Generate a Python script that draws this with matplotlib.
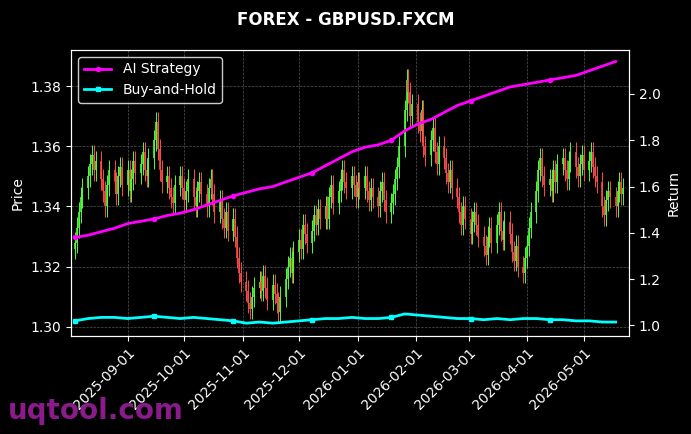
import matplotlib
matplotlib.use("Agg")
import matplotlib.pyplot as plt
import matplotlib.dates as mdates
import numpy as np
import pandas as pd

closes = [
1.328,1.333,1.338,1.343,1.346, 1.350,1.354,1.357,1.352,1.355, 1.349,1.345,1.340,1.347,1.352,
1.348,1.344,1.350,1.353,1.347, 1.352,1.345,1.349,1.355,1.351, 1.354,1.358,1.352,1.350,1.356,
1.362,1.368,1.359,1.352,1.348, 1.350,1.346,1.343,1.341,1.347, 1.350,1.346,1.342,1.345,1.349,
1.343,1.340,1.345,1.348,1.344, 1.340,1.346,1.349,1.344,1.338, 1.342,1.336,1.333,1.338,1.332,
1.336,1.330,1.323,1.318,1.315, 1.312,1.308,1.306,1.310,1.313, 1.315,1.312,1.317,1.313,1.309,
1.314,1.311,1.308,1.305,1.310, 1.316,1.320,1.323,1.318,1.325, 1.329,1.326,1.334,1.331,1.328,
1.332,1.337,1.334,1.339,1.336, 1.340,1.336,1.343,1.347,1.341, 1.345,1.349,1.352,1.348,1.346,
1.350,1.347,1.343,1.348,1.346, 1.350,1.345,1.342,1.346,1.343, 1.340,1.345,1.348,1.342,1.338,
1.341,1.344,1.349,1.353,1.360, 1.372,1.382,1.378,1.370,1.374, 1.368,1.365,1.372,1.360,1.357,
1.362,1.366,1.358,1.354,1.360, 1.356,1.351,1.348,1.352,1.346, 1.343,1.338,1.334,1.340,1.336,
1.331,1.335,1.338,1.334,1.330, 1.327,1.324,1.330,1.333,1.328, 1.334,1.338,1.332,1.329,1.335,
1.331,1.325,1.322,1.327,1.320, 1.318,1.323,1.327,1.333,1.338, 1.345,1.352,1.356,1.350,1.347,
1.349,1.345,1.352,1.348,1.354, 1.356,1.352,1.349,1.355,1.358, 1.353,1.350,1.354,1.357,1.352,
1.355,1.358,1.353,1.350,1.348, 1.340,1.337,1.342,1.345,1.343, 1.340,1.345,1.348,1.344,1.346]
open0 = 1.326
strategy_weekly = [1.38,1.39,1.405,1.42,1.44,1.45,1.46,1.475,1.485,1.50,1.52,1.54,1.56,1.575,
1.59,1.60,1.62,1.64,1.66,1.69,1.72,1.75,1.77,1.78,1.80,1.84,1.87,1.89,1.92,1.95,1.97,1.99,
2.01,2.03,2.04,2.05,2.06,2.07,2.08,2.10,2.12,2.14]
buyhold_weekly = [1.02,1.03,1.035,1.035,1.03,1.035,1.04,1.035,1.03,1.035,1.03,1.025,1.02,1.01,
1.015,1.01,1.015,1.02,1.025,1.03,1.03,1.035,1.03,1.03,1.035,1.05,1.045,1.04,1.035,1.03,1.03,
1.025,1.03,1.025,1.03,1.03,1.025,1.025,1.02,1.02,1.015,1.015]

days = pd.bdate_range("2025-08-04", periods=len(closes))
weeks = pd.date_range("2025-08-04", periods=len(strategy_weekly), freq="7D")
closes = np.array(closes)
opens = np.concatenate([[open0], closes[:-1]])
wick = 0.0035

fig = plt.figure(figsize=(6.91, 4.34), dpi=100, facecolor="black")
ax = fig.add_axes([0.103, 0.226, 0.807, 0.659], facecolor="black")
colors = np.where(closes >= opens, "#4cff3a", "#ff4a4a")
ax.vlines(days, np.minimum(opens, closes) - wick, np.maximum(opens, closes) + wick,
          colors=colors, linewidth=0.7)
ax.vlines(days, np.minimum(opens, closes), np.maximum(opens, closes),
          colors=colors, linewidth=1.2)
ax.set_ylim(1.297, 1.392)
ax.set_ylabel("Price", color="white")
ax.grid(True, color="#555555", linestyle="--", linewidth=0.5)

ax2 = ax.twinx()
ax2.plot(weeks, strategy_weekly, color="#ff00ff", lw=2, marker="o", ms=3, markevery=6, label="AI Strategy")
ax2.plot(weeks, buyhold_weekly, color="#00ffff", lw=2, marker="s", ms=3, markevery=6, label="Buy-and-Hold")
ax2.set_ylim(0.955, 2.19)
ax2.set_ylabel("Return", color="white")
ax.set_xlim(pd.Timestamp("2025-08-02"), pd.Timestamp("2026-05-25"))

for a in (ax, ax2):
    a.tick_params(colors="white")
    for s in a.spines.values():
        s.set_color("white")
ax.xaxis.set_major_locator(mdates.MonthLocator())
ax.xaxis.set_major_formatter(mdates.DateFormatter("%Y-%m-%d"))
plt.setp(ax.get_xticklabels(), rotation=45, ha="right", rotation_mode="anchor")
ax.set_yticks([1.30, 1.32, 1.34, 1.36, 1.38])
ax2.set_yticks([1.0, 1.2, 1.4, 1.6, 1.8, 2.0])
leg = ax2.legend(loc="upper left", facecolor="black", edgecolor="white", labelcolor="white")
fig.suptitle("FOREX - GBPUSD.FXCM", color="white", fontweight="bold", y=0.975)
fig.text(0.012, 0.035, "uqtool.com", color="#8b1a8b", fontsize=20, fontweight="bold")
fig.savefig("out.png", facecolor="black")
